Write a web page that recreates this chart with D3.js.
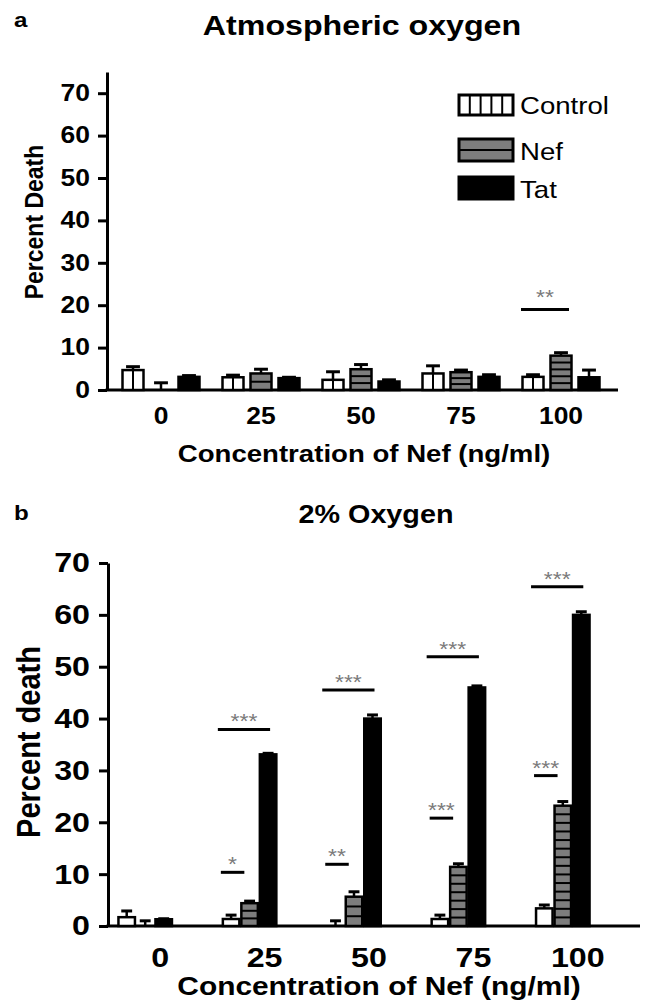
<!DOCTYPE html>
<html lang="en">
<head>
<meta charset="utf-8">
<title>Percent death vs Nef</title>
<script src="https://d3js.org/d3.v7.min.js"></script>
<style>
  body { margin: 0; background: #fff; }
  svg { display: block; }
  text { font-family: "Liberation Sans", Arial, Helvetica, sans-serif; }
</style>
</head>
<body>
<script>
var W = 645, H = 1001;
var SX = 1.15; // the original figure is a bit stretched sideways

// categories
var groups = ["0", "25", "50", "75", "100"];
var series = ["Control", "Nef", "Tat"];

// panel a: atmospheric oxygen (mean, sem)
var aControl = [4.7, 3.0, 2.4, 3.9, 3.1];
var aControlErr = [0.8, 0.5, 1.9, 1.8, 0.5];
var aNef = [0, 3.9, 4.9, 4.2, 8.1];
var aNefErr = [1.7, 1.0, 1.1, 0.5, 0.7];
var aTat = [3.1, 2.8, 2.0, 3.1, 3.0];
var aTatErr = [0.3, 0.2, 0.4, 0.5, 1.7];
var aTicks = [0, 10, 20, 30, 40, 50, 60, 70];
var aSig = [{ group: "100", y: 19, label: "**", kind: "pair" }];

// panel b: 2% oxygen
var bControl = [1.7, 1.35, 0, 1.35, 3.4];
var bControlErr = [1.2, 0.75, 1.0, 0.75, 0.65];
var bNef = [0, 4.4, 5.65, 11.4, 23.2];
var bNefErr = [1.0, 0.4, 0.95, 0.6, 0.8];
var bTat = [1.3, 33.1, 40.0, 46.0, 60.0];
var bTatErr = [0.1, 0.2, 0.7, 0.3, 0.6];
var bTicks = [0, 10, 20, 30, 40, 50, 60, 70];
var bSig = [
  { group: "25", y: 37.9, label: "***", kind: "wide" },
  { group: "25", y: 10.35, label: "*", kind: "short" },
  { group: "50", y: 45.5, label: "***", kind: "wide" },
  { group: "50", y: 11.9, label: "**", kind: "short" },
  { group: "75", y: 51.9, label: "***", kind: "wide" },
  { group: "75", y: 20.8, label: "***", kind: "short" },
  { group: "100", y: 65.4, label: "***", kind: "wide" },
  { group: "100", y: 29.0, label: "***", kind: "short" }
];

var NEF_GRAY = "#7d7d7d";

var svg = d3.select("body").append("svg")
  .attr("width", W)
  .attr("height", H);

// widen text horizontally (keeps the anchor point where it was)
function stretch(sel, rotated) {
  sel.each(function () {
    var t = d3.select(this);
    var tr = t.attr("transform") || "";
    if (rotated) {
      t.attr("transform", tr + " scale(1," + SX + ")");
    } else {
      var x = +t.attr("x") || 0;
      t.attr("x", x / SX).attr("transform", tr + " scale(" + SX + ",1)");
    }
  });
  return sel;
}

// split a rect into cells with black lines (hatching used in the original)
function cells(g, x, y, w, h, n, vertical) {
  for (var i = 1; i < n; i++) {
    if (vertical) {
      g.append("line").attr("x1", x + w * i / n).attr("x2", x + w * i / n)
        .attr("y1", y).attr("y2", y + h)
        .attr("stroke", "#000").attr("stroke-width", 2);
    } else {
      g.append("line").attr("x1", x).attr("x2", x + w)
        .attr("y1", y + h * i / n).attr("y2", y + h * i / n)
        .attr("stroke", "#000").attr("stroke-width", 2);
    }
  }
}

function drawPanel(p) {
  var g = svg.append("g");

  var y = d3.scaleLinear().domain(p.yDomain).range([p.y0, p.yTop]);
  var x0 = d3.scaleBand().domain(groups).range(p.xRange);
  var half = p.barStep * (3 - p.pad) / 2;
  var x1 = d3.scaleBand().domain(series).range([-half, half]).paddingInner(p.pad);
  var bw = x1.bandwidth();

  // panel letter and title
  stretch(g.append("text").attr("x", 14).attr("y", p.letterY)
    .attr("font-size", 21).attr("font-weight", "bold").text(p.letter));
  stretch(g.append("text").attr("x", p.titleX).attr("y", p.titleY)
    .attr("text-anchor", "middle").attr("font-size", p.titleSize)
    .attr("font-weight", "bold").text(p.title));

  // y axis
  var yAxis = g.append("g")
    .attr("transform", "translate(" + p.axisX + ",0)")
    .call(d3.axisLeft(y).tickValues(p.ticks).tickSize(9).tickSizeOuter(0).tickPadding(p.yPad));
  yAxis.select(".domain").attr("stroke-width", 3);
  yAxis.selectAll(".tick line").attr("stroke-width", 3);
  stretch(yAxis.selectAll(".tick text")
    .attr("font-size", p.tickSize).attr("font-weight", "bold").attr("fill", "#000")
    .attr("font-family", "Liberation Sans, Arial, sans-serif"));

  // x axis line + labels
  g.append("line").attr("x1", p.axisX - 1.5).attr("x2", p.xAxisEnd)
    .attr("y1", y(0)).attr("y2", y(0))
    .attr("stroke", "#000").attr("stroke-width", 3);
  var xAxis = g.append("g")
    .attr("transform", "translate(" + p.labelShift + "," + y(0) + ")")
    .call(d3.axisBottom(x0).tickSize(0).tickPadding(p.xLabelPad));
  xAxis.select(".domain").remove();
  stretch(xAxis.selectAll(".tick text")
    .attr("font-size", p.xTickSize).attr("font-weight", "bold").attr("fill", "#000")
    .attr("font-family", "Liberation Sans, Arial, sans-serif"));

  // axis titles
  stretch(g.append("text")
    .attr("transform", "translate(" + p.yTitleX + "," + p.yTitleY + ") rotate(-90)")
    .attr("text-anchor", "middle").attr("font-size", p.yTitleSize)
    .attr("font-weight", "bold").text(p.yTitle), true);
  stretch(g.append("text").attr("x", p.xTitleX).attr("y", p.xTitleY)
    .attr("text-anchor", "middle").attr("font-size", p.xTitleSize)
    .attr("font-weight", "bold").text("Concentration of Nef (ng/ml)"));

  // bars
  var rows = [];
  groups.forEach(function (grp, i) {
    series.forEach(function (s, j) {
      rows.push({ group: grp, series: s, value: p.vals[j][i], err: p.errs[j][i] });
    });
  });

  rows.forEach(function (d) {
    var bx = x0(d.group) + x0.bandwidth() / 2 + x1(d.series);
    var top = y(d.value), h = y(0) - y(d.value);
    var cx = bx + bw / 2;
    var capW = bw * 0.66;

    // error bar (upper half only)
    g.append("line").attr("x1", cx).attr("x2", cx)
      .attr("y1", top).attr("y2", y(d.value + d.err))
      .attr("stroke", "#000").attr("stroke-width", 2.5);
    g.append("line").attr("x1", cx - capW / 2).attr("x2", cx + capW / 2)
      .attr("y1", y(d.value + d.err)).attr("y2", y(d.value + d.err))
      .attr("stroke", "#000").attr("stroke-width", 3);

    if (h <= 0) return;
    var fill = d.series === "Tat" ? "#000" : d.series === "Nef" ? NEF_GRAY : "#fff";
    g.append("rect").attr("x", bx).attr("y", top).attr("width", bw).attr("height", h)
      .attr("fill", fill);
    if (d.series === "Control" && p.controlCells > 1) {
      cells(g, bx, top, bw, h, p.controlCells, true);
    }
    if (d.series === "Nef") {
      var n = Math.max(1, Math.round(h / p.nefCell));
      cells(g, bx, top, bw, h, n, false);
    }
    g.append("rect").attr("x", bx).attr("y", top).attr("width", bw).attr("height", h)
      .attr("fill", "none").attr("stroke", "#000").attr("stroke-width", 2.5);
  });

  // significance bars
  p.sig.forEach(function (s) {
    var c = x0(s.group) + x0.bandwidth() / 2;
    var xa, xb;
    if (s.kind === "pair") {
      xa = c + x1("Control") - 1.5; xb = c + x1("Nef") + bw - 2.5;
    } else if (s.kind === "wide") {
      xa = c + x1("Control") - 5; xb = c + x1("Tat") + bw / 2 + 2;
    } else {
      xa = c + x1("Control") - 2; xb = c + x1("Nef") + 3;
    }
    g.append("line").attr("x1", xa).attr("x2", xb)
      .attr("y1", y(s.y)).attr("y2", y(s.y))
      .attr("stroke", "#000").attr("stroke-width", 3);
    stretch(g.append("text").attr("x", (xa + xb) / 2).attr("y", y(s.y) + p.starDy)
      .attr("text-anchor", "middle").attr("font-size", 20)
      .attr("fill", "#7a7a7a").text(s.label));
  });

  return g;
}

var gA = drawPanel({
  letter: "a", letterY: 27,
  title: "Atmospheric oxygen", titleX: 362, titleY: 35, titleSize: 28,
  yDomain: [0, 75], y0: 390, yTop: 72, ticks: aTicks,
  axisX: 107, xRange: [111, 611], xAxisEnd: 618,
  barStep: 28, pad: 0.25, controlCells: 2, nefCell: 7,
  tickSize: 23, yPad: 8, xTickSize: 23, xLabelPad: 18, labelShift: 0,
  yTitle: "Percent Death", yTitleX: 43, yTitleY: 222, yTitleSize: 23,
  xTitleX: 364, xTitleY: 462, xTitleSize: 24,
  starDy: -5,
  vals: [aControl, aNef, aTat], errs: [aControlErr, aNefErr, aTatErr],
  sig: aSig
});

// legend (panel a)
var legY = [95, 139, 177];
var leg = gA.append("g");
series.forEach(function (s, i) {
  var lx = 459, lw = 54, lh = s === "Control" ? 20 : 22;
  var ly = legY[i];
  leg.append("rect").attr("x", lx).attr("y", ly).attr("width", lw).attr("height", lh)
    .attr("fill", s === "Tat" ? "#000" : s === "Nef" ? NEF_GRAY : "#fff");
  if (s === "Control") cells(leg, lx, ly, lw, lh, 5, true);
  if (s === "Nef") cells(leg, lx, ly, lw, lh, 2, false);
  leg.append("rect").attr("x", lx).attr("y", ly).attr("width", lw).attr("height", lh)
    .attr("fill", "none").attr("stroke", "#000").attr("stroke-width", 3);
  stretch(leg.append("text").attr("x", lx + lw + 7).attr("y", ly + lh - 1)
    .attr("font-size", 24).text(s));
});

drawPanel({
  letter: "b", letterY: 520,
  title: "2% Oxygen", titleX: 376, titleY: 523, titleSize: 25,
  yDomain: [0, 70], y0: 926, yTop: 563, ticks: bTicks,
  axisX: 108, xRange: [93, 615], xAxisEnd: 640,
  barStep: 18.5, pad: 2 / 18.5, controlCells: 1, nefCell: 8.5,
  tickSize: 28, yPad: 9, xTickSize: 28, xLabelPad: 21, labelShift: 15,
  yTitle: "Percent death", yTitleX: 40, yTitleY: 742, yTitleSize: 29,
  xTitleX: 379, xTitleY: 995, xTitleSize: 26,
  starDy: -1,
  vals: [bControl, bNef, bTat], errs: [bControlErr, bNefErr, bTatErr],
  sig: bSig
});
</script>
</body>
</html>
